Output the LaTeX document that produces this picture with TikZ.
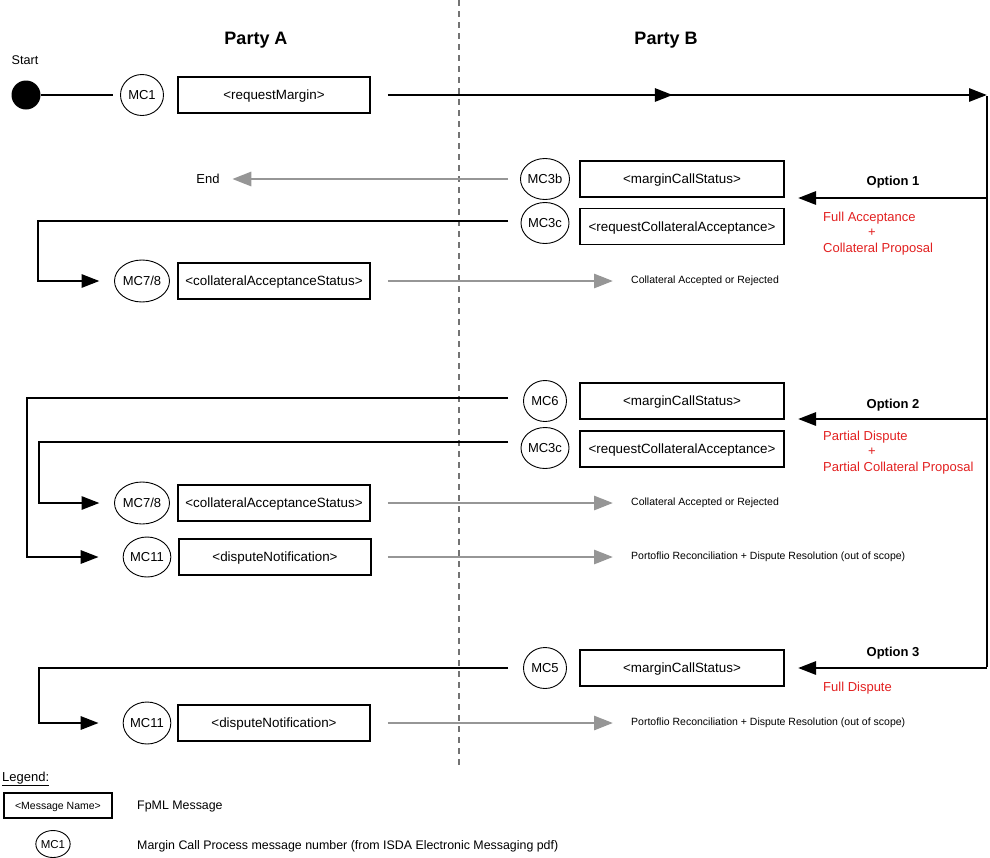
\documentclass[tikz,border=0pt]{standalone}
\usepackage{fontspec}
\setmainfont{Liberation Sans}
\usetikzlibrary{arrows.meta,decorations.markings,shapes.geometric}
\definecolor{arrgray}{RGB}{150,150,150}
\definecolor{dashgray}{RGB}{115,115,115}
\definecolor{optred}{RGB}{226,32,32}
\tikzset{
  msgbox/.style={draw, line width=1.7pt, minimum width=192pt, minimum height=36pt, inner sep=0pt, text height=9.6pt, text depth=0pt, font=\fontsize{13.4}{16}\selectfont},
  msgboxB/.style={msgbox, minimum width=204pt},
  mcnum/.style={draw, line width=0.9pt, ellipse, minimum width=43pt, minimum height=41pt, inner sep=0pt, text height=9.3pt, text depth=0pt, font=\fontsize{13}{15}\selectfont},
  flow/.style={line width=2.9pt, -{Triangle[length=18pt,width=13pt]}},
  plainflow/.style={line width=2.9pt},
  gflow/.style={line width=2.9pt, arrgray, -{Triangle[length=19pt,width=14pt]}},
  lbl/.style={inner sep=0pt, font=\fontsize{13}{15}\selectfont},
  small/.style={inner sep=0pt, anchor=west, font=\fontsize{10.5}{12}\selectfont},
  optlbl/.style={inner sep=0pt, font=\bfseries\fontsize{13}{15}\selectfont},
  redlbl/.style={inner sep=0pt, anchor=west, text=optred, font=\fontsize{13}{15}\selectfont},
  head/.style={inner sep=0pt, font=\bfseries\fontsize{18}{21}\selectfont}
}
\begin{document}
\begin{tikzpicture}[x=1pt,y=-1pt]
\useasboundingbox (0,0) rectangle (990,857);

% divider
\coordinate (dtop) at (459,0);
\coordinate (dbot) at (459,768);
\draw[dashgray, line width=1.4pt, dash pattern=on 6pt off 5pt] (dtop) -- (dbot);

% headings
\node[head] (pa) at (256,40) {Party A};
\node[head] (pb) at (666,40) {Party B};

% start
\node[lbl, font=\fontsize{12.6}{15}\selectfont] (startlbl) at (25,60) {Start};
\node[circle, fill=black, minimum size=29pt, inner sep=0pt] (start) at (26,95) {};
\coordinate (s1) at (113,95);
\draw[plainflow] (start.east) -- (s1);

\node[mcnum] (mc1) at (142,95) {MC1};
\node[msgbox] (rm) at (274,95) {<requestMargin>};

\coordinate (tr) at (987,95);
\draw[flow, decoration={markings, mark=at position 285pt with {\arrow{Triangle[length=18pt,width=13pt]}}}, postaction={decorate}]
  ([xshift=17pt]rm.east) -- (tr);

% right trunk
\coordinate (o1) at (987,198);
\coordinate (o2) at (987,419);
\coordinate (o3) at (987,668);
\draw[plainflow] ([yshift=-1.45pt]tr) -- ([yshift=1.45pt]o3);

% ---------- Option 1 ----------
\node[mcnum] (mc3b) at (545,179) {MC3b};
\node[msgboxB] (mcs1) at (682,179) {<marginCallStatus>};
\node[mcnum] (mc3c1) at (545,223) {MC3c};
\node[msgboxB] (rca1) at (682,226.5) {<requestCollateralAcceptance>};
\coordinate (t1) at (798,198);
\draw[flow] (o1) -- (t1);
\node[optlbl] (op1) at (893,182) {Option 1};
\node[redlbl] (r1a) at (823,218) {Full Acceptance};
\node[lbl, text=optred] (r1b) at (872,233) {+};
\node[redlbl] (r1c) at (823,249) {Collateral Proposal};

\node[lbl] (end) at (208,179) {End};
\coordinate (e1) at (508,179);
\draw[gflow] (e1) -- ([xshift=12.5pt]end.east);

\coordinate (b1) at (508,221);
\node[mcnum, minimum width=55pt, minimum height=42pt] (mc78a) at (142,281) {MC7/8};
\node[msgbox] (cas1) at (274,281) {<collateralAcceptanceStatus>};
\draw[flow] (b1) -- ++(-470,0) |- ([xshift=-14.5pt]mc78a.west);
\node[small] (ca1) at (631,281) {Collateral Accepted or Rejected};
\draw[gflow] ([xshift=17pt]cas1.east) -- ([xshift=-18pt]ca1.west);

% ---------- Option 2 ----------
\node[mcnum] (mc6) at (545,401) {MC6};
\node[msgboxB] (mcs2) at (682,401) {<marginCallStatus>};
\node[mcnum] (mc3c2) at (545,448) {MC3c};
\node[msgboxB] (rca2) at (682,449) {<requestCollateralAcceptance>};
\coordinate (t2) at (798,419);
\draw[flow] (o2) -- (t2);
\node[optlbl] (op2) at (893,405) {Option 2};
\node[redlbl] (r2a) at (823,437) {Partial Dispute};
\node[lbl, text=optred] (r2b) at (872,452) {+};
\node[redlbl] (r2c) at (823,468) {Partial Collateral Proposal};

\coordinate (b2) at (508,398);
\coordinate (b3) at (508,442);
\node[mcnum, minimum width=55pt, minimum height=42pt] (mc78b) at (142,503) {MC7/8};
\node[msgbox] (cas2) at (274,503) {<collateralAcceptanceStatus>};
\node[mcnum, minimum width=46pt, minimum height=40pt] (mc11a) at (147,557) {MC11};
\node[msgbox] (dn1) at (275,557) {<disputeNotification>};
\draw[flow] (b2) -- ++(-481,0) |- ([xshift=-24pt]mc11a.west);
\draw[flow] (b3) -- ++(-469,0) |- ([xshift=-14.5pt]mc78b.west);
\node[small] (ca2) at (631,503) {Collateral Accepted or Rejected};
\draw[gflow] ([xshift=17pt]cas2.east) -- ([xshift=-18pt]ca2.west);
\node[small] (pr1) at (631,557) {Portoflio Reconciliation + Dispute Resolution (out of scope)};
\draw[gflow] ([xshift=16pt]dn1.east) -- ([xshift=-18pt]pr1.west);

% ---------- Option 3 ----------
\node[mcnum] (mc5) at (545,668) {MC5};
\node[msgboxB] (mcs3) at (682,668) {<marginCallStatus>};
\coordinate (t3) at (798,668);
\draw[flow] (o3) -- (t3);
\node[optlbl] (op3) at (893,653) {Option 3};
\node[redlbl] (r3a) at (823,688) {Full Dispute};

\coordinate (b4) at (508,668);
\node[mcnum, minimum width=46pt, minimum height=42pt] (mc11b) at (147,723) {MC11};
\node[msgbox] (dn2) at (274,723) {<disputeNotification>};
\draw[flow] (b4) -- ++(-469,0) |- ([xshift=-24pt]mc11b.west);
\node[small] (pr2) at (631,723) {Portoflio Reconciliation + Dispute Resolution (out of scope)};
\draw[gflow] ([xshift=17pt]dn2.east) -- ([xshift=-18pt]pr2.west);

% ---------- Legend ----------
\node[inner sep=0pt, anchor=west, font=\fontsize{13}{15}\selectfont] (leg) at (2,779) {\underline{Legend:}};
\node[draw, line width=1.7pt, minimum width=108pt, minimum height=25pt, inner sep=0pt, text height=7.5pt, text depth=0pt, font=\fontsize{10.5}{12}\selectfont] (legbox) at (58,805.5) {<Message Name>};
\node[inner sep=0pt, anchor=west, font=\fontsize{12.4}{15}\selectfont] (legt1) at (137,807) {FpML Message};
\node[mcnum, minimum width=31pt, minimum height=27pt, text height=8.2pt, font=\fontsize{11.5}{13}\selectfont] (legmc) at (53,844) {MC1};
\node[inner sep=0pt, anchor=west, font=\fontsize{12.4}{15}\selectfont] (legt2) at (137,846) {Margin Call Process message number (from ISDA Electronic Messaging pdf)};
\end{tikzpicture}
\end{document}
